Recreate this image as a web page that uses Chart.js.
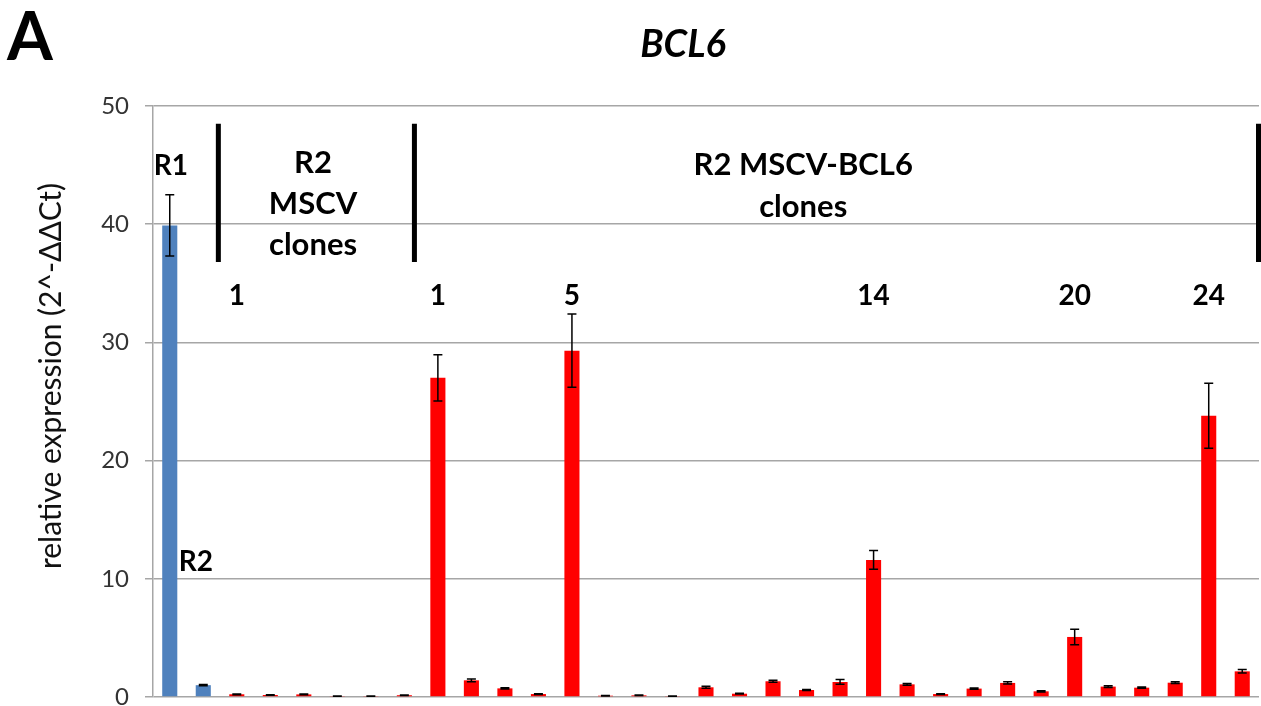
<!DOCTYPE html>
<html><head><meta charset="utf-8">
<script src="https://cdn.jsdelivr.net/npm/chart.js@4"></script>
<style>html,body{margin:0;padding:0;background:#fff}#wrap{width:1261px;height:706px;position:relative}</style>
</head><body><div id="wrap"><canvas id="c"></canvas></div>
<script>
// ---- data ----
const categories = ['R1','R2',
  'MSCV 1','MSCV 2','MSCV 3','MSCV 4','MSCV 5','MSCV 6',
  'BCL6 1','BCL6 2','BCL6 3','BCL6 4','BCL6 5','BCL6 6','BCL6 7','BCL6 8','BCL6 9','BCL6 10',
  'BCL6 11','BCL6 12','BCL6 13','BCL6 14','BCL6 15','BCL6 16','BCL6 17','BCL6 18','BCL6 19','BCL6 20',
  'BCL6 21','BCL6 22','BCL6 23','BCL6 24','BCL6 25'];
const values = [39.9, 1.0,
  0.23, 0.17, 0.22, 0.08, 0.08, 0.15,
  27.0, 1.41, 0.73, 0.25, 29.3, 0.11, 0.14, 0.08, 0.82, 0.28,
  1.33, 0.59, 1.27, 11.6, 1.07, 0.25, 0.71, 1.19, 0.48, 5.08,
  0.88, 0.79, 1.21, 23.8, 2.17];
const errors = [2.6, 0.05,
  0.03, 0.02, 0.03, 0.01, 0.01, 0.02,
  1.95, 0.12, 0.06, 0.03, 3.1, 0.02, 0.02, 0.01, 0.08, 0.03,
  0.08, 0.05, 0.2, 0.8, 0.07, 0.03, 0.05, 0.1, 0.05, 0.65,
  0.07, 0.05, 0.07, 2.75, 0.15];
const groups = ['parent','parent',
  'clone','clone','clone','clone','clone','clone',
  'clone','clone','clone','clone','clone','clone','clone','clone','clone','clone',
  'clone','clone','clone','clone','clone','clone','clone','clone','clone','clone',
  'clone','clone','clone','clone','clone'];
const yTicks = [0, 10, 20, 30, 40, 50];
const cloneNumberLabels = ['1', '1', '5', '14', '20', '24'];
const cloneNumberIndex = [2, 8, 12, 21, 27, 31];

// ---- styling / annotation placement ----
const groupColors = {parent: '#4F81BD', clone: '#FF0000'};
const separatorsAt = [1.45, 7.3, 32.5];       // category-index positions
const separatorRange = [36.8, 48.5];          // value range of separator lines
const FONT = 'Lato, "Open Sans", "Liberation Sans", sans-serif';

const annot = {
  id: 'annot',
  beforeDraw(chart) {
    const ctx = chart.ctx;
    ctx.save();
    ctx.fillStyle = '#fff';
    ctx.fillRect(0, 0, chart.width, chart.height);
    ctx.restore();
  },
  afterDatasetsDraw(chart) {
    const ctx = chart.ctx, xs = chart.scales.x, ys = chart.scales.y;
    ctx.save();
    // error bars
    ctx.strokeStyle = '#000';
    ctx.lineWidth = 1.5;
    const cap = 4.5;
    values.forEach((v, i) => {
      const x = xs.getPixelForValue(i);
      const yT = ys.getPixelForValue(v + errors[i]);
      const yB = ys.getPixelForValue(Math.max(0, v - errors[i]));
      ctx.beginPath();
      ctx.moveTo(x, yT); ctx.lineTo(x, yB);
      ctx.moveTo(x - cap, yT); ctx.lineTo(x + cap, yT);
      ctx.moveTo(x - cap, yB); ctx.lineTo(x + cap, yB);
      ctx.stroke();
    });
    // separators
    ctx.lineWidth = 5;
    separatorsAt.forEach(p => {
      let x = xs.getPixelForValue(p);
      x = Math.min(x, chart.width - 2.5);
      ctx.beginPath();
      ctx.moveTo(x, ys.getPixelForValue(separatorRange[1]));
      ctx.lineTo(x, ys.getPixelForValue(separatorRange[0]));
      ctx.stroke();
    });
    // texts
    ctx.fillStyle = '#000';
    ctx.textAlign = 'center';
    ctx.textBaseline = 'alphabetic';
    ctx.font = 'bold 28px ' + FONT;
    ctx.fillText('R1', xs.getPixelForValue(0.03), ys.getPixelForValue(44.2));
    ctx.fillText('R2', xs.getPixelForValue(0.78), ys.getPixelForValue(10.7));
    cloneNumberLabels.forEach((t, k) => {
      ctx.fillText(t, xs.getPixelForValue(cloneNumberIndex[k]), ys.getPixelForValue(33.2));
    });
    ctx.font = 'bold 31px ' + FONT;
    const mid1 = (separatorsAt[0] + separatorsAt[1]) / 2;
    ctx.fillText('R2', xs.getPixelForValue(mid1 - 0.1), ys.getPixelForValue(44.3));
    ctx.fillText('MSCV', xs.getPixelForValue(mid1 - 0.1), ys.getPixelForValue(40.9));
    ctx.fillText('clones', xs.getPixelForValue(mid1 - 0.1), ys.getPixelForValue(37.4));
    ctx.fillText('R2 MSCV-BCL6', xs.getPixelForValue(18.9), ys.getPixelForValue(44.2));
    ctx.fillText('clones', xs.getPixelForValue(18.9), ys.getPixelForValue(40.6));
    // panel letter & title
    ctx.textAlign = 'left';
    ctx.font = 'bold 66px ' + FONT;
    ctx.fillText('A', 7, 60);
    ctx.textAlign = 'center';
    ctx.font = 'italic bold 38px ' + FONT;
    ctx.fillText('BCL6', 683, 57);
    // y-axis title
    ctx.save();
    ctx.translate(51, 376);
    ctx.rotate(-Math.PI / 2);
    ctx.textBaseline = 'middle';
    ctx.font = '30px ' + FONT;
    ctx.fillStyle = '#111';
    ctx.fillText('relative expression (2^-\u0394\u0394Ct)', 0, 0);
    ctx.restore();
    ctx.restore();
  }
};

new Chart(document.getElementById('c'), {
  type: 'bar',
  data: {
    labels: categories,
    datasets: [{
      data: values,
      backgroundColor: groups.map(g => groupColors[g]),
      borderWidth: 0,
      barPercentage: 0.45,
      categoryPercentage: 1.0
    }]
  },
  options: {
    responsive: true,
    maintainAspectRatio: false,
    animation: false,
    devicePixelRatio: 1,
    layout: {padding: {top: 106, bottom: 9, left: 0, right: 2}},
    plugins: {legend: {display: false}, tooltip: {enabled: false}, title: {display: false}},
    scales: {
      x: {display: false},
      y: {
        min: 0, max: 50,
        afterBuildTicks: s => { s.ticks = yTicks.map(v => ({value: v})); },
        afterFit: s => { s.width = 153; s.paddingTop = 0; s.paddingBottom = 0; },
        ticks: {font: {family: FONT, size: 24}, color: '#333', padding: 16},
        grid: {color: '#a6a6a6', lineWidth: 1.5, tickLength: 8},
        border: {color: '#a6a6a6', width: 1.5}
      }
    }
  },
  plugins: [annot]
});
</script>
</body></html>
